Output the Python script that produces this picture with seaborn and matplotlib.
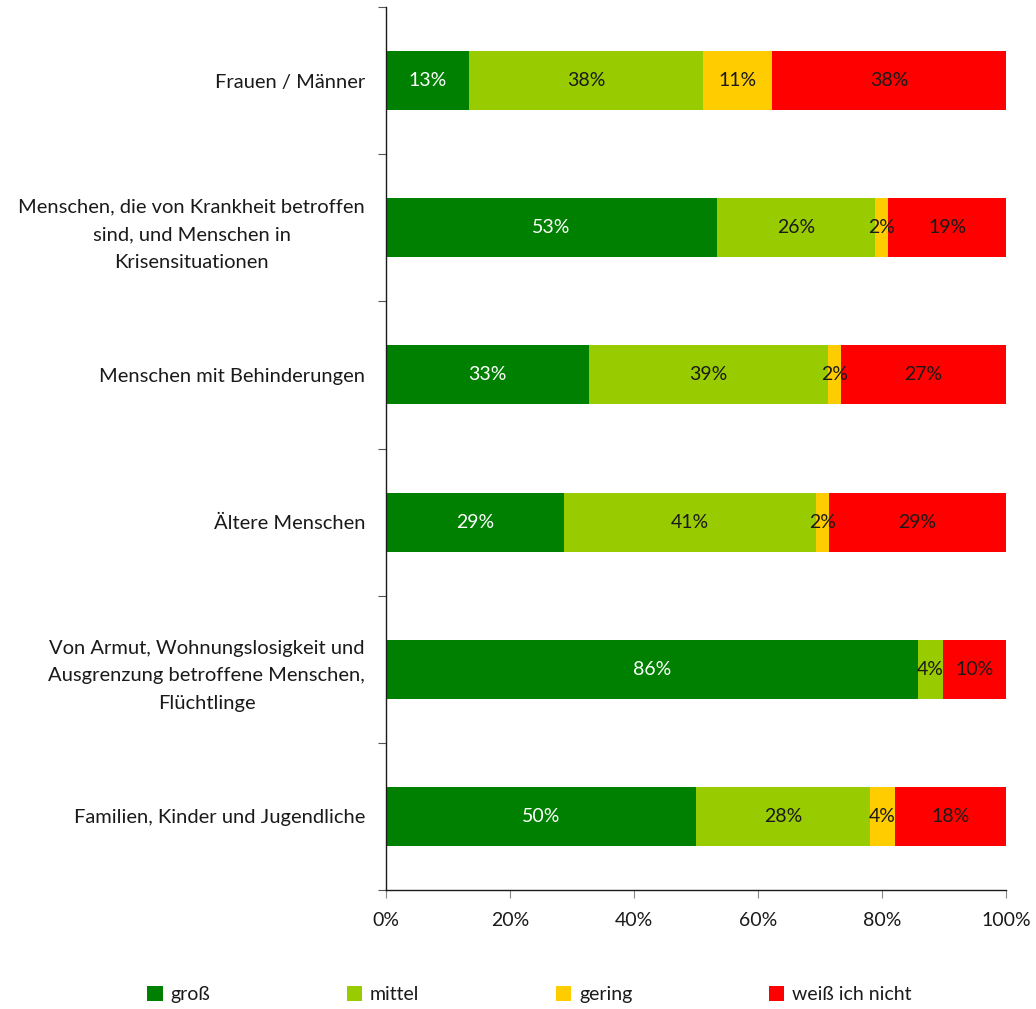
import matplotlib
matplotlib.use("Agg")
import matplotlib.pyplot as plt
import seaborn as sns
import pandas as pd
import numpy as np
from matplotlib.patches import Patch

categories = [
    "Frauen / Männer",
    "Menschen, die von Krankheit betroffen\nsind, und Menschen in\nKrisensituationen",
    "Menschen mit Behinderungen",
    "Ältere Menschen",
    "Von Armut, Wohnungslosigkeit und\nAusgrenzung betroffene Menschen,\nFlüchtlinge",
    "Familien, Kinder und Jugendliche",
]
series_names = ["groß", "mittel", "gering", "weiß ich nicht"]
gross = [13.4, 53.4, 32.7, 28.7, 85.8, 50.0]
mittel = [37.7, 25.5, 38.6, 40.7, 4.0, 28.1]
gering = [11.2, 2.1, 2.1, 2.0, 0.0, 4.0]
weiss = [37.7, 19.0, 26.6, 28.6, 10.2, 17.9]
series_values = [gross, mittel, gering, weiss]
colors = ["#008000", "#99CC00", "#FFCC00", "#FF0000"]
text_colors = ["white", "#1a1a1a", "#1a1a1a", "#1a1a1a"]
xtick_vals = [0, 20, 40, 60, 80, 100]
xtick_labels = ["0%", "20%", "40%", "60%", "80%", "100%"]

sns.set_style("white")
plt.rcParams["font.family"] = ["Lato", "DejaVu Sans"]

fig = plt.figure(figsize=(10.36, 10.09), dpi=100)
ax = fig.add_axes([386/1036, 119/1009, 620/1036, 883/1009])

vals = np.array(series_values)
cum = np.cumsum(vals, axis=0)
for i in range(len(series_names) - 1, -1, -1):
    df = pd.DataFrame({"cat": categories, "val": cum[i]})
    sns.barplot(data=df, y="cat", x="val", orient="h", color=colors[i],
                width=0.4, saturation=1, ax=ax, errorbar=None, linewidth=0)

for i in range(len(series_names)):
    for j in range(len(categories)):
        v = vals[i, j]
        if v <= 0.5:
            continue
        ax.text(cum[i, j] - v / 2, j, f"{int(v + 0.5)}%", ha="center", va="center",
                color=text_colors[i], fontsize=14)

ax.set_xlim(0, 100)
ax.set_ylim(len(categories) - 0.5, -0.5)
ax.set_xlabel("")
ax.set_ylabel("")
ax.set_xticks(xtick_vals)
ax.set_xticklabels(xtick_labels, fontsize=14, color="#1a1a1a")
ax.set_yticks(range(len(categories)))
ax.set_yticklabels(categories, fontsize=14.5, color="#1a1a1a", multialignment="center",
                   linespacing=1.75)
ax.set_yticks(np.arange(-0.5, len(categories), 1), minor=True)
ax.tick_params(axis="y", which="major", length=0, pad=15)
ax.tick_params(axis="y", which="minor", length=6, width=0.8, color="#555555", direction="out", left=True)
ax.tick_params(axis="x", which="major", length=6, width=0.8, color="#888888", direction="out",
               bottom=True, pad=10)
for s in ["top", "right"]:
    ax.spines[s].set_visible(False)
for s in ["left", "bottom"]:
    ax.spines[s].set_color("#1a1a1a")
    ax.spines[s].set_linewidth(1.0)

handles = [Patch(facecolor=c, edgecolor="none") for c in colors]
fig.legend(handles, series_names, loc="lower left", ncol=4, mode="expand",
           bbox_to_anchor=(0.131, -0.006, 0.76, 0.03), frameon=False, fontsize=14,
           handlelength=0.8, handleheight=0.8, handletextpad=0.4, borderaxespad=0.2,
           labelcolor="#1a1a1a")

fig.savefig("out.png", dpi=100)
